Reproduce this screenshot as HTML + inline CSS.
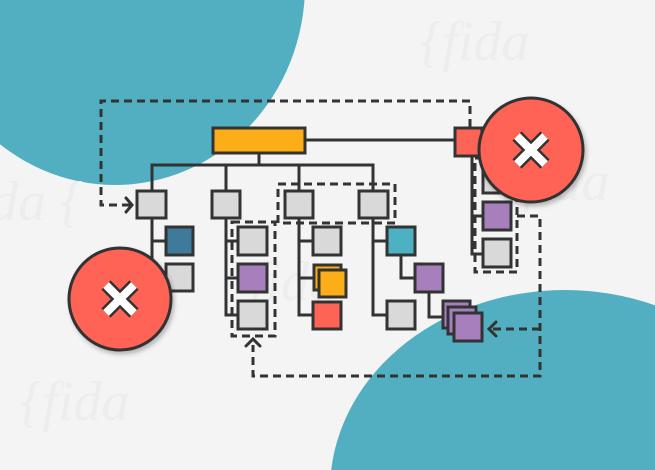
<!DOCTYPE html>
<html><head><style>html,body{margin:0;padding:0;background:#f4f4f4;width:655px;height:470px;overflow:hidden;}svg{display:block}</style></head>
<body>
<svg width="655" height="470" viewBox="0 0 655 470" xmlns="http://www.w3.org/2000/svg">
<defs>
<filter id="sh" x="-20%" y="-20%" width="150%" height="150%"><feDropShadow dx="2" dy="3" stdDeviation="2" flood-color="#000" flood-opacity="0.25"/></filter>
</defs>
<rect width="655" height="470" fill="#f4f4f4"/>
<ellipse cx="115" cy="-15" rx="190" ry="200" fill="#52afc1"/>
<ellipse cx="565" cy="490" rx="235" ry="200" fill="#52afc1"/>
<g font-family="Liberation Serif, serif" font-style="italic" font-size="56" fill="#ededed">
<text x="420" y="60">{fida</text><text x="500" y="200">{fida</text><text x="-10" y="220">da {</text><text x="250" y="300">fida</text><text x="20" y="420">{fida</text>
</g>
<g stroke="#333" stroke-width="3" fill="none">
<g stroke-dasharray="8,5">
<polyline points="130,205 101,205 101,101 470,101 470,128"/>
<polyline points="517,216 540,216 540,376 253,376 253,345"/>
<line x1="540" y1="329" x2="492" y2="329"/>
<rect x="232" y="222" width="43" height="114"/>
<rect x="278" y="184" width="117" height="39"/>
<rect x="475" y="158" width="42" height="114"/>
</g>
<polyline points="126,198 132,205 126,212" stroke-linecap="round"/>
<polyline points="246,346 253,339 260,346" stroke-linecap="round"/>
<polyline points="496,322 489,329 496,336" stroke-linecap="round"/>
<line x1="305" y1="140" x2="456" y2="140"/>
<line x1="259" y1="153" x2="259" y2="165"/>
<polyline points="152,191 152,165 373,165 373,191"/>
<line x1="226" y1="165" x2="226" y2="191"/>
<line x1="299" y1="165" x2="299" y2="191"/>
<polyline points="152,218 152,290 166,290"/><line x1="152" y1="241" x2="166" y2="241"/>
<polyline points="226,218 226,315 238,315"/><line x1="226" y1="241" x2="238" y2="241"/><line x1="226" y1="278" x2="238" y2="278"/>
<polyline points="299,218 299,315 313,315"/><line x1="299" y1="241" x2="313" y2="241"/><line x1="299" y1="278" x2="316" y2="278"/>
<polyline points="373,218 373,315 387,315"/><line x1="373" y1="241" x2="387" y2="241"/>
<polyline points="401,255 401,278 415,278"/>
<polyline points="429,292 429,317 443,317"/>
<polyline points="472,156 472,254 483,254"/><line x1="472" y1="216" x2="483" y2="216"/>
</g>
<g stroke="#333" stroke-width="3">
<rect x="213" y="128" width="92" height="25" fill="#fbae17"/>
<rect x="137" y="191" width="29" height="27" fill="#d9d9d9"/>
<rect x="212" y="191" width="28" height="27" fill="#d9d9d9"/>
<rect x="285" y="191" width="28" height="27" fill="#d9d9d9"/>
<rect x="359" y="191" width="29" height="27" fill="#d9d9d9"/>
<rect x="166" y="227" width="27" height="28" fill="#3f7a9a"/>
<rect x="166" y="264" width="27" height="27" fill="#d9d9d9"/>
<rect x="238" y="227" width="29" height="28" fill="#d9d9d9"/>
<rect x="238" y="264" width="29" height="28" fill="#a77fbd"/>
<rect x="238" y="301" width="29" height="28" fill="#d9d9d9"/>
<rect x="313" y="227" width="28" height="28" fill="#d9d9d9"/>
<rect x="314" y="265" width="27" height="25" fill="#fbae17"/>
<rect x="319" y="270" width="27" height="27" fill="#fbae17"/>
<rect x="313" y="302" width="28" height="27" fill="#fe6455"/>
<rect x="387" y="227" width="28" height="28" fill="#4bb1c3"/>
<rect x="415" y="264" width="28" height="28" fill="#a77fbd"/>
<rect x="387" y="301" width="28" height="28" fill="#d9d9d9"/>
<rect x="443" y="301" width="27" height="27" fill="#a77fbd"/>
<rect x="448" y="307" width="28" height="27" fill="#a77fbd"/>
<rect x="454" y="313" width="28" height="28" fill="#a77fbd"/>
<rect x="455" y="128" width="27" height="28" fill="#fe6455"/>
<rect x="483" y="166" width="28" height="27" fill="#d9d9d9"/>
<rect x="483" y="202" width="28" height="28" fill="#a77fbd"/>
<rect x="483" y="239" width="28" height="28" fill="#d9d9d9"/>
</g>
<g filter="url(#sh)">
<circle cx="120" cy="299" r="51" fill="#fe6455" stroke="#333" stroke-width="3"/>
<circle cx="531" cy="150" r="52" fill="#fe6455" stroke="#333" stroke-width="3"/>
</g>
<g stroke-linecap="butt">
<path d="M106,285 L134,313 M134,285 L106,313" stroke="#333" stroke-width="13"/>
<path d="M106,285 L134,313 M134,285 L106,313" stroke="#fff" stroke-width="8"/>
<path d="M517,136 L545,164 M545,136 L517,164" stroke="#333" stroke-width="13"/>
<path d="M517,136 L545,164 M545,136 L517,164" stroke="#fff" stroke-width="8"/>
</g>
</svg>
</body></html>
